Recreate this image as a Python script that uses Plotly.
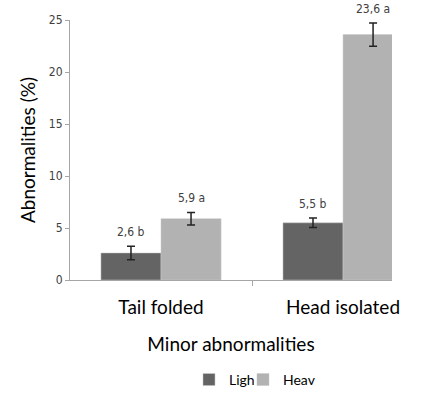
import plotly.graph_objects as go

categories = ["Tail folded", "Head isolated"]
cat_pos = [0, 1]
series_names = ["Ligh", "Heav"]
light_values = [2.6, 5.5]
light_err = [0.65, 0.45]
light_letters = ["b", "b"]
heavy_values = [5.9, 23.6]
heavy_err = [0.6, 1.12]
heavy_letters = ["a", "a"]
y_ticks = [0, 5, 10, 15, 20, 25]

DARK = "#646464"
LIGHT = "#b2b2b2"
LAB_FONT = "DejaVu Sans Condensed, Roboto, sans-serif"
MAIN_FONT = "Lato, Open Sans, sans-serif"

def fmt(v, letter):
    return f"{v:.1f}".replace(".", ",") + " " + letter

fig = go.Figure()
for name, vals, errs, color, leg in [
    (series_names[0], light_values, light_err, DARK, "legend"),
    (series_names[1], heavy_values, heavy_err, LIGHT, "legend2"),
]:
    fig.add_trace(go.Bar(
        x=cat_pos, y=vals, name=name, legend=leg,
        marker=dict(color=color, line=dict(color="#c8c8c8", width=0.5)),
        error_y=dict(type="data", array=errs, color="#222222", thickness=1.5, width=4),
    ))

annotations = []
for vals, errs, letters, shift in [
    (light_values, light_err, light_letters, -30),
    (heavy_values, heavy_err, heavy_letters, 30),
]:
    for x, v, e, l in zip(cat_pos, vals, errs, letters):
        annotations.append(dict(
            x=x, y=v + e, xref="x", yref="y", text=fmt(v, l), showarrow=False,
            xshift=shift, yanchor="bottom", yshift=5,
            font=dict(family=LAB_FONT, size=12, color="#404040"),
        ))

leg_common = dict(orientation="h", xref="container", yref="container", y=0.043,
                  yanchor="middle", xanchor="left", itemwidth=30,
                  bgcolor="rgba(0,0,0,0)",
                  font=dict(family=MAIN_FONT, size=14, color="#000000"))

fig.update_layout(
    width=439, height=397,
    margin=dict(l=70, r=47, t=20, b=117, autoexpand=False),
    paper_bgcolor="white", plot_bgcolor="white",
    barmode="group", bargap=0.34, bargroupgap=0,
    font=dict(family=MAIN_FONT, color="#000000"),
    showlegend=True,
    legend=dict(x=0.4305, **leg_common),
    legend2=dict(x=0.5535, **leg_common),
    annotations=annotations,
)
fig.update_xaxes(
    range=[-0.5, 1.269], tickvals=cat_pos, ticktext=categories,
    ticks="", showline=True, linecolor="#a6a6a6", linewidth=1,
    tickfont=dict(family=MAIN_FONT, size=19, color="#000000"),
    ticklabelstandoff=10, automargin=False,
    minor=dict(tickvals=[0.5], ticks="outside", ticklen=5, tickcolor="#a6a6a6"),
    title=dict(text="Minor abnormalities", font=dict(family=MAIN_FONT, size=19, color="#000000"), standoff=20),
    showgrid=False, zeroline=False, fixedrange=True,
)
fig.update_yaxes(
    range=[0, 25], tickvals=y_ticks, ticks="outside", ticklen=4, tickcolor="#a6a6a6",
    showline=True, linecolor="#a6a6a6", linewidth=1, automargin=False,
    tickfont=dict(family=LAB_FONT, size=12, color="#404040"),
    title=dict(text="Abnormalities (%)", font=dict(family=MAIN_FONT, size=19, color="#000000"), standoff=8),
    showgrid=False, zeroline=False,
)

fig.write_html("out.html", config={"displayModeBar": False},
               post_script="document.body.style.margin='0';")
